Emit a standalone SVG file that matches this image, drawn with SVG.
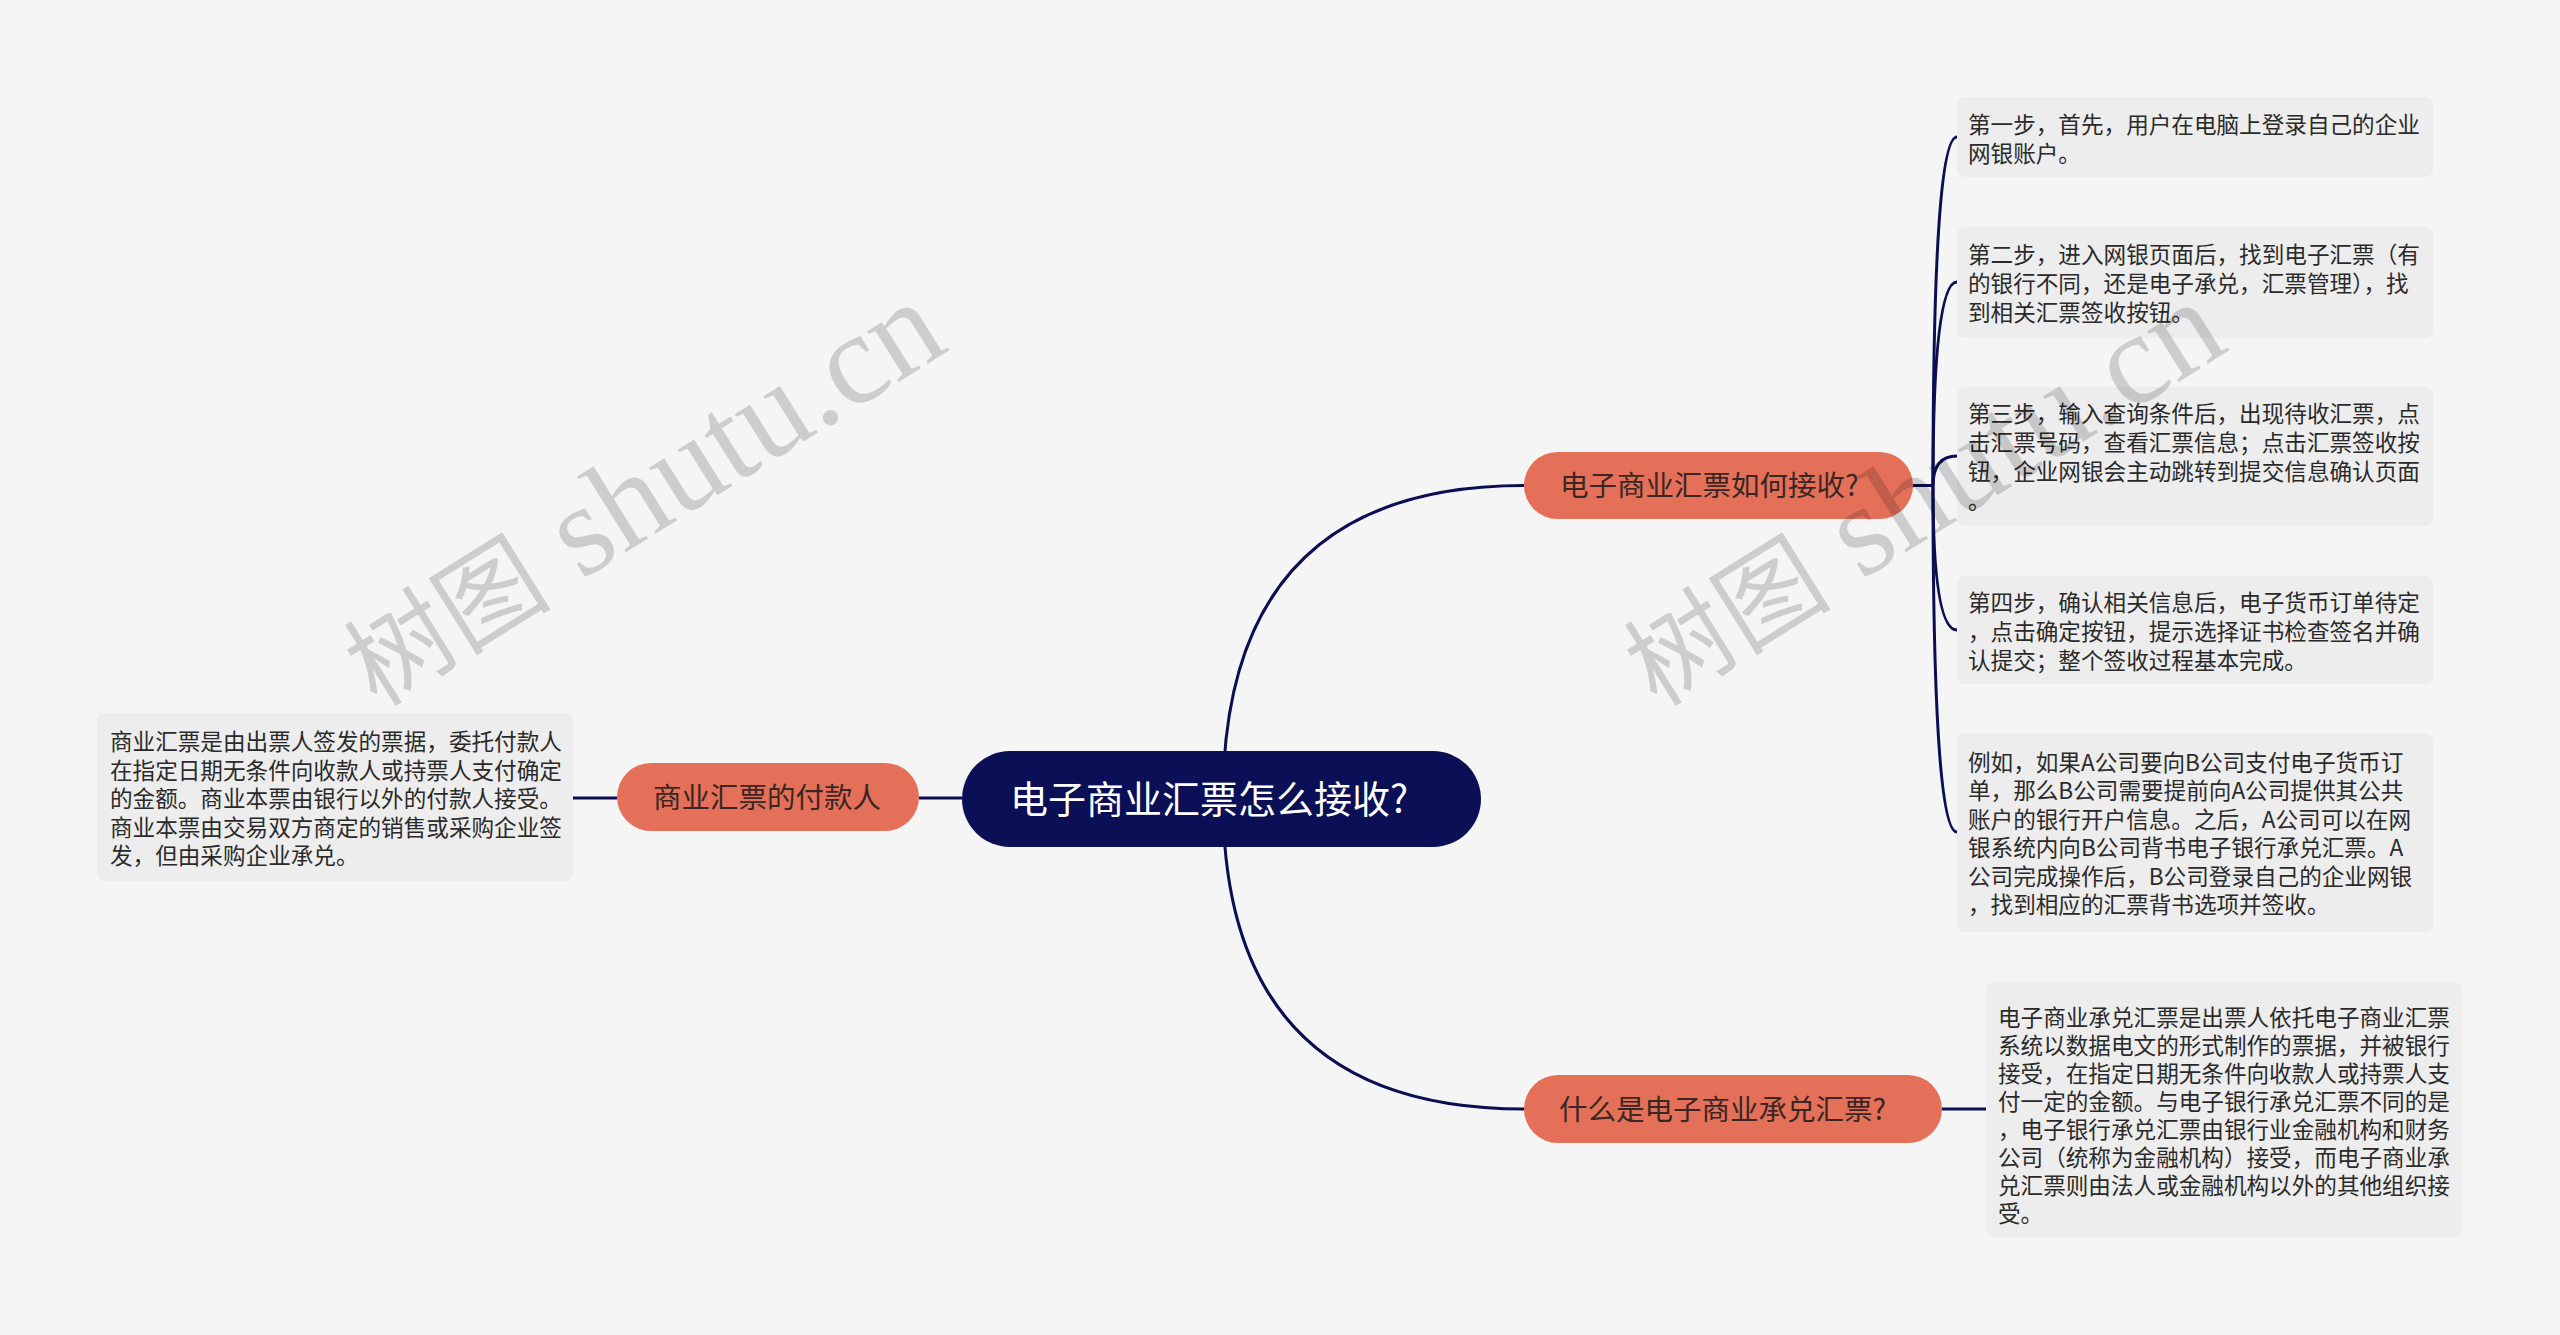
<svg xmlns="http://www.w3.org/2000/svg" width="2560" height="1335" viewBox="0 0 2560 1335">
<style>
.bg{fill:#f5f5f5}
.conn{fill:none;stroke:#0b0f52;stroke-width:3}
.root{fill:#0b0f55}
.rootText{fill:#ffffff;font-family:"Noto Sans CJK SC","Noto Sans",sans-serif;font-size:38px}
.branch{fill:#e4705a}
.branchText{fill:#3a2622;font-family:"Noto Sans CJK SC","Noto Sans",sans-serif;font-size:28.5px}
.box{fill:#ededed}
.boxText{fill:#2a2a2a;font-family:"Noto Sans CJK SC","Noto Sans",sans-serif;font-size:22.6px}
.wm{fill:#000000;fill-opacity:0.16;font-family:"Liberation Serif","Noto Sans CJK SC",serif}
</style>
<rect class="bg" x="0" y="0" width="2560" height="1335"/>

<g id="connectors">
  <path class="conn" d="M1223,799 Q1223,485.5 1524,485.5"/>
  <path class="conn" d="M1223,799 Q1223,1109 1524,1109"/>
  <path class="conn" d="M962,798 L919,798"/>
  <path class="conn" d="M617,798 L573,798"/>
  <path class="conn" d="M1942,1109 L1986,1109"/>
  <path class="conn" d="M1913,485.5 L1933,485.5"/>
  <path class="conn" d="M1933,485.5 Q1933,137 1957,137"/>
  <path class="conn" d="M1933,485.5 Q1933,282 1957,282"/>
  <path class="conn" d="M1933,485.5 Q1933,456 1957,456"/>
  <path class="conn" d="M1933,485.5 Q1933,630 1957,630"/>
  <path class="conn" d="M1933,485.5 Q1933,832 1957,832"/>
</g>

<g id="root">
  <rect class="root" x="962" y="751" width="519" height="96" rx="48"/>
  <text class="rootText" x="1010" y="813">电子商业汇票怎么接收?</text>
</g>

<g id="node-payer">
  <rect class="branch" x="617" y="763" width="302" height="68" rx="34"/>
  <text class="branchText" x="653" y="807.5">商业汇票的付款人</text>
</g>

<g id="node-how">
  <rect class="branch" x="1524" y="452" width="389" height="67" rx="33.5"/>
  <text class="branchText" x="1560" y="496">电子商业汇票如何接收?</text>
</g>

<g id="node-what">
  <rect class="branch" x="1524" y="1075" width="418" height="68" rx="34"/>
  <text class="branchText" x="1559" y="1119.5">什么是电子商业承兑汇票?</text>
</g>

<g id="box-payer">
  <rect class="box" x="97" y="713" width="476" height="168" rx="8"/>
  <text class="boxText">
    <tspan x="110" y="750">商业汇票是由出票人签发的票据，委托付款人</tspan>
    <tspan x="110" y="778.6">在指定日期无条件向收款人或持票人支付确定</tspan>
    <tspan x="110" y="807.2">的金额。商业本票由银行以外的付款人接受。</tspan>
    <tspan x="110" y="835.8">商业本票由交易双方商定的销售或采购企业签</tspan>
    <tspan x="110" y="864.4">发，但由采购企业承兑。</tspan>
  </text>
</g>

<g id="box-step1">
  <rect class="box" x="1957" y="97" width="476" height="80" rx="8"/>
  <text class="boxText">
    <tspan x="1968" y="132.5">第一步，首先，用户在电脑上登录自己的企业</tspan>
    <tspan x="1968" y="161.5">网银账户。</tspan>
  </text>
</g>

<g id="box-step2">
  <rect class="box" x="1957" y="227" width="476" height="111" rx="8"/>
  <text class="boxText">
    <tspan x="1968" y="262.5">第二步，进入网银页面后，找到电子汇票（有</tspan>
    <tspan x="1968" y="291.5">的银行不同，还是电子承兑，汇票管理），找</tspan>
    <tspan x="1968" y="320.5">到相关汇票签收按钮。</tspan>
  </text>
</g>

<g id="box-step3">
  <rect class="box" x="1957" y="387" width="476" height="139" rx="8"/>
  <text class="boxText">
    <tspan x="1968" y="421.5">第三步，输入查询条件后，出现待收汇票，点</tspan>
    <tspan x="1968" y="450.5">击汇票号码，查看汇票信息；点击汇票签收按</tspan>
    <tspan x="1968" y="479.5">钮，企业网银会主动跳转到提交信息确认页面</tspan>
    <tspan x="1968" y="508.5">。</tspan>
  </text>
</g>

<g id="box-step4">
  <rect class="box" x="1957" y="576" width="476" height="108" rx="8"/>
  <text class="boxText">
    <tspan x="1968" y="610.5">第四步，确认相关信息后，电子货币订单待定</tspan>
    <tspan x="1968" y="639.5">，点击确定按钮，提示选择证书检查签名并确</tspan>
    <tspan x="1968" y="668.5">认提交；整个签收过程基本完成。</tspan>
  </text>
</g>

<g id="box-example">
  <rect class="box" x="1957" y="733" width="476" height="199" rx="8"/>
  <text class="boxText">
    <tspan x="1968" y="770.5">例如，如果A公司要向B公司支付电子货币订</tspan>
    <tspan x="1968" y="799">单，那么B公司需要提前向A公司提供其公共</tspan>
    <tspan x="1968" y="827.5">账户的银行开户信息。之后，A公司可以在网</tspan>
    <tspan x="1968" y="856">银系统内向B公司背书电子银行承兑汇票。A</tspan>
    <tspan x="1968" y="884.5">公司完成操作后，B公司登录自己的企业网银</tspan>
    <tspan x="1968" y="913">，找到相应的汇票背书选项并签收。</tspan>
  </text>
</g>

<g id="box-what">
  <rect class="box" x="1986" y="982" width="476" height="255" rx="8"/>
  <text class="boxText">
    <tspan x="1998" y="1025.5">电子商业承兑汇票是出票人依托电子商业汇票</tspan>
    <tspan x="1998" y="1053.5">系统以数据电文的形式制作的票据，并被银行</tspan>
    <tspan x="1998" y="1081.5">接受，在指定日期无条件向收款人或持票人支</tspan>
    <tspan x="1998" y="1109.5">付一定的金额。与电子银行承兑汇票不同的是</tspan>
    <tspan x="1998" y="1137.5">，电子银行承兑汇票由银行业金融机构和财务</tspan>
    <tspan x="1998" y="1165.5">公司（统称为金融机构）接受，而电子商业承</tspan>
    <tspan x="1998" y="1193.5">兑汇票则由法人或金融机构以外的其他组织接</tspan>
    <tspan x="1998" y="1221.5">受。</tspan>
  </text>
</g>

<g id="watermarks">
  <text class="wm" transform="translate(377,708) rotate(-32)"><tspan font-size="104">树图</tspan><tspan font-size="130"> shutu.cn</tspan></text>
  <text class="wm" transform="translate(1657,708) rotate(-32)"><tspan font-size="104">树图</tspan><tspan font-size="130"> shutu.cn</tspan></text>
</g>
</svg>
